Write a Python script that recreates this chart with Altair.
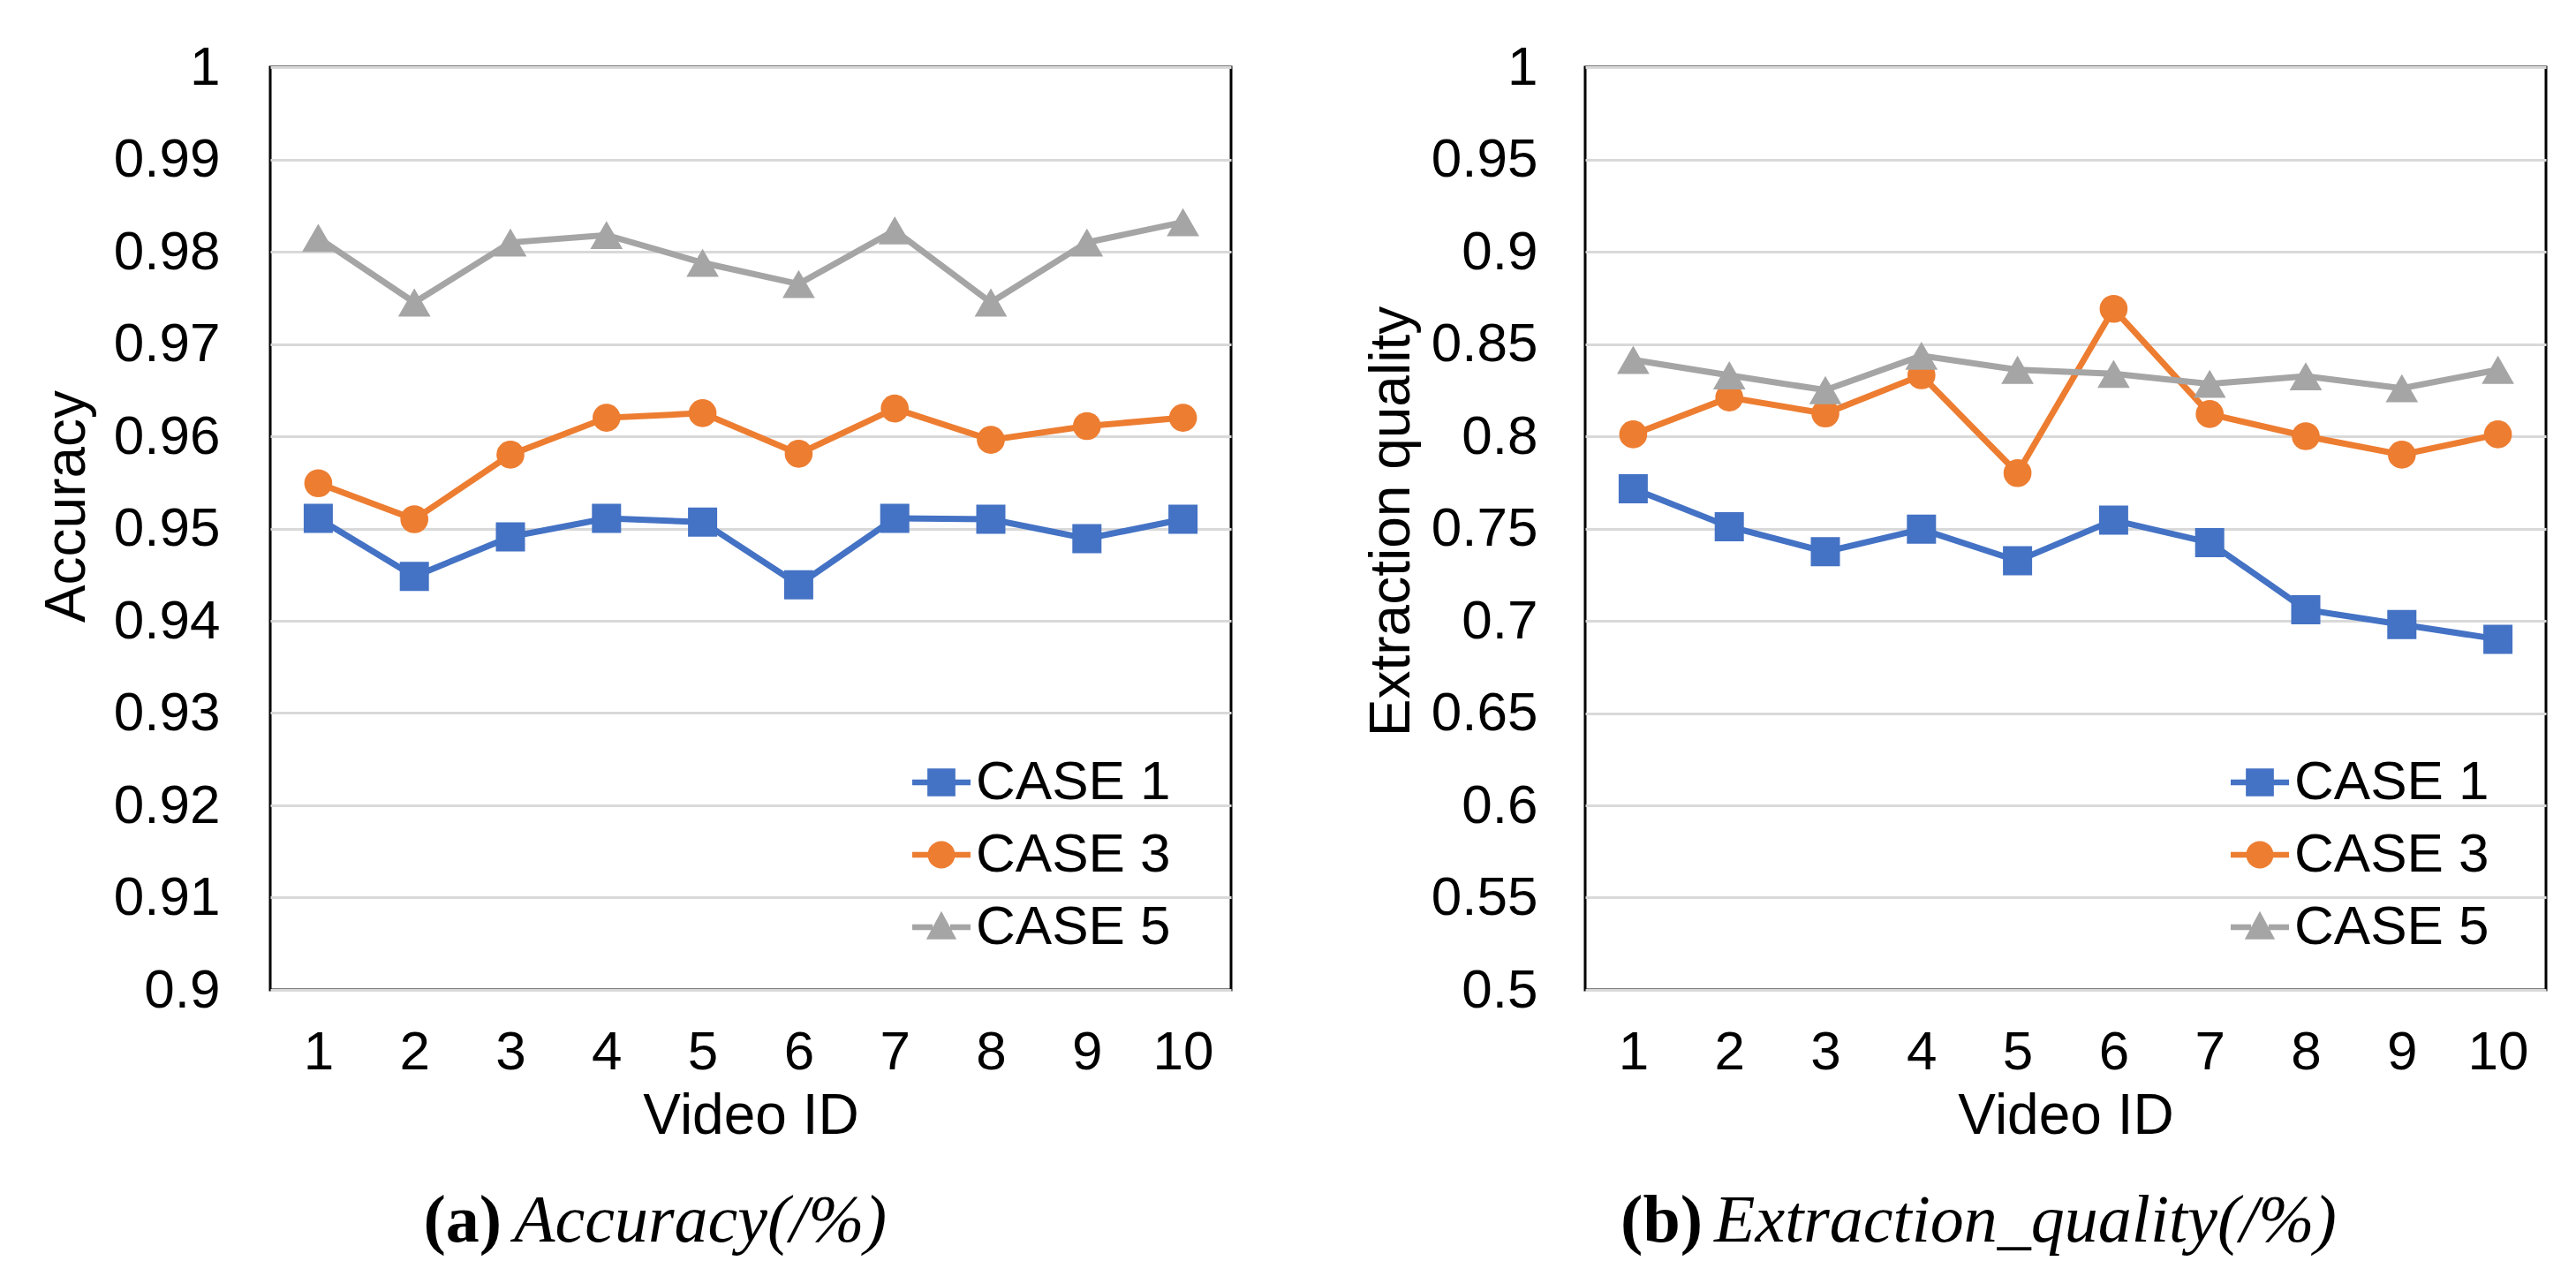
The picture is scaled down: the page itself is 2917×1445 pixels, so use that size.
import altair as alt
import pandas as pd

video_ids = list(range(1, 11))
series_names = ["CASE 1", "CASE 3", "CASE 5"]

acc_case1 = [0.9511, 0.9448, 0.9491, 0.9511, 0.9507, 0.9439, 0.9511, 0.9510, 0.9489, 0.9510]
acc_case3 = [0.9549, 0.9510, 0.9580, 0.9620, 0.9625, 0.9581, 0.9630, 0.9596, 0.9611, 0.9620]
acc_case5 = [0.9815, 0.9745, 0.9810, 0.9818, 0.9788, 0.9765, 0.9823, 0.9745, 0.9810, 0.9832]

eq_case1 = [0.7715, 0.7510, 0.7374, 0.7496, 0.7325, 0.7545, 0.7424, 0.7060, 0.6980, 0.6900]
eq_case3 = [0.8010, 0.8210, 0.8123, 0.8330, 0.7800, 0.8690, 0.8120, 0.8000, 0.7900, 0.8010]
eq_case5 = [0.8414, 0.8330, 0.8250, 0.8436, 0.8360, 0.8338, 0.8284, 0.8325, 0.8260, 0.8360]

acc_ticks = [0.9, 0.91, 0.92, 0.93, 0.94, 0.95, 0.96, 0.97, 0.98, 0.99, 1.0]
eq_ticks = [0.5, 0.55, 0.6, 0.65, 0.7, 0.75, 0.8, 0.85, 0.9, 0.95, 1.0]

captions_tag = ["(a)", "(b)"]
captions_text = ["Accuracy(/%)", "Extraction_quality(/%)"]
y_titles = ["Accuracy", "Extraction quality"]
x_title = "Video ID"

colors = ["#4472C4", "#ED7D31", "#A5A5A5"]
shapes = ["square", "circle", "triangle-up"]
sizes = [1089, 1000, 1350]
legend_paths = [
    "M-1,-0.1H-0.45V0.1H-1Z M0.45,-0.1H1V0.1H0.45Z M-0.48,-0.48H0.48V0.48H-0.48Z",
    "M-1,-0.1H-0.45V0.1H-1Z M0.45,-0.1H1V0.1H0.45Z M-0.47,0A0.47,0.47 0 1,1 0.47,0A0.47,0.47 0 1,1 -0.47,0Z",
    "M-1,-0.1H-0.3V0.1H-1Z M0.3,-0.1H1V0.1H0.3Z M0,-0.55L0.52,0.42H-0.52Z",
]

W, H = 1088, 1045
FONT = "Liberation Sans"


def panel(series_values, ytitle, ydomain, yticks, tag, text, label_pad, title_pad, title_y,
          tag_x, text_x, legend_x):
    rows = []
    for name, vals in zip(series_names, series_values):
        for vid, v in zip(video_ids, vals):
            rows.append({"video": vid, "value": v, "series": name})
    df = pd.DataFrame(rows)
    base = alt.Chart(df)
    x = alt.X("video:O", axis=alt.Axis(title=x_title, labelAngle=0, labelPadding=40,
                                        titlePadding=10, grid=False))
    y = alt.Y("value:Q", scale=alt.Scale(domain=ydomain, nice=False, zero=False),
              axis=alt.Axis(title=ytitle, values=yticks, format=".2~f", grid=True,
                            labelPadding=label_pad, titlePadding=title_pad, titleY=title_y))
    layers = []
    for name, c, s, sz in zip(series_names, colors, shapes, sizes):
        layers.append(
            base.transform_filter(alt.datum.series == name)
            .mark_line(color=c, strokeWidth=7,
                       point=alt.OverlayMarkDef(shape=s, size=sz, filled=True, color=c, opacity=1))
            .encode(x=x, y=y)
        )
    leg = alt.Legend(title=None, orient="none", legendX=legend_x, legendY=777,
                     symbolSize=4356, symbolOpacity=1, symbolStrokeWidth=0,
                     labelFont=FONT, labelFontSize=62, labelColor="black", labelLimit=0,
                     labelOffset=6, rowPadding=18, padding=0)
    layers.append(
        base.mark_point(filled=True, opacity=0).encode(
            x=x, y=y,
            color=alt.Color("series:N", scale=alt.Scale(domain=series_names, range=colors), legend=leg),
            shape=alt.Shape("series:N", scale=alt.Scale(domain=series_names, range=legend_paths), legend=leg),
        )
    )
    cap = pd.DataFrame({"tag": [tag], "text": [text]})
    layers.append(
        alt.Chart(cap).mark_text(font="Liberation Serif", fontSize=76, fontWeight="bold",
                                 align="right", baseline="alphabetic", color="black")
        .encode(text="tag:N", x=alt.value(tag_x), y=alt.value(1330))
    )
    layers.append(
        alt.Chart(cap).mark_text(font="Liberation Serif", fontSize=76, fontStyle="italic",
                                 align="left", baseline="alphabetic", color="black")
        .encode(text="text:N", x=alt.value(text_x), y=alt.value(1330))
    )
    return alt.layer(*layers).properties(width=W, height=H)


left = panel([acc_case1, acc_case3, acc_case5], y_titles[0], [0.9, 1.0], acc_ticks,
             captions_tag[0], captions_text[0], 57, 20, 497, 262, 276, 727)
right = panel([eq_case1, eq_case3, eq_case5], y_titles[1], [0.5, 1.0], eq_ticks,
              captions_tag[1], captions_text[1], 54, 12, 514, 133, 146, 731)

chart = (
    alt.hconcat(left, right, spacing=146)
    .resolve_scale(color="independent", shape="independent")
    .resolve_legend(color="independent", shape="independent")
    .configure_view(stroke="black", strokeWidth=3)
    .configure_axis(domain=False, ticks=False, labelFont=FONT, labelFontSize=62,
                    labelColor="black", titleFont=FONT, titleFontSize=64,
                    titleFontWeight="normal", titleColor="black",
                    gridColor="#d9d9d9", gridWidth=3)
    .properties(padding={"left": 34, "top": 35, "right": 5, "bottom": 5}, background="white")
)

chart.save("out.html", embed_options={"renderer": "svg", "actions": False})
